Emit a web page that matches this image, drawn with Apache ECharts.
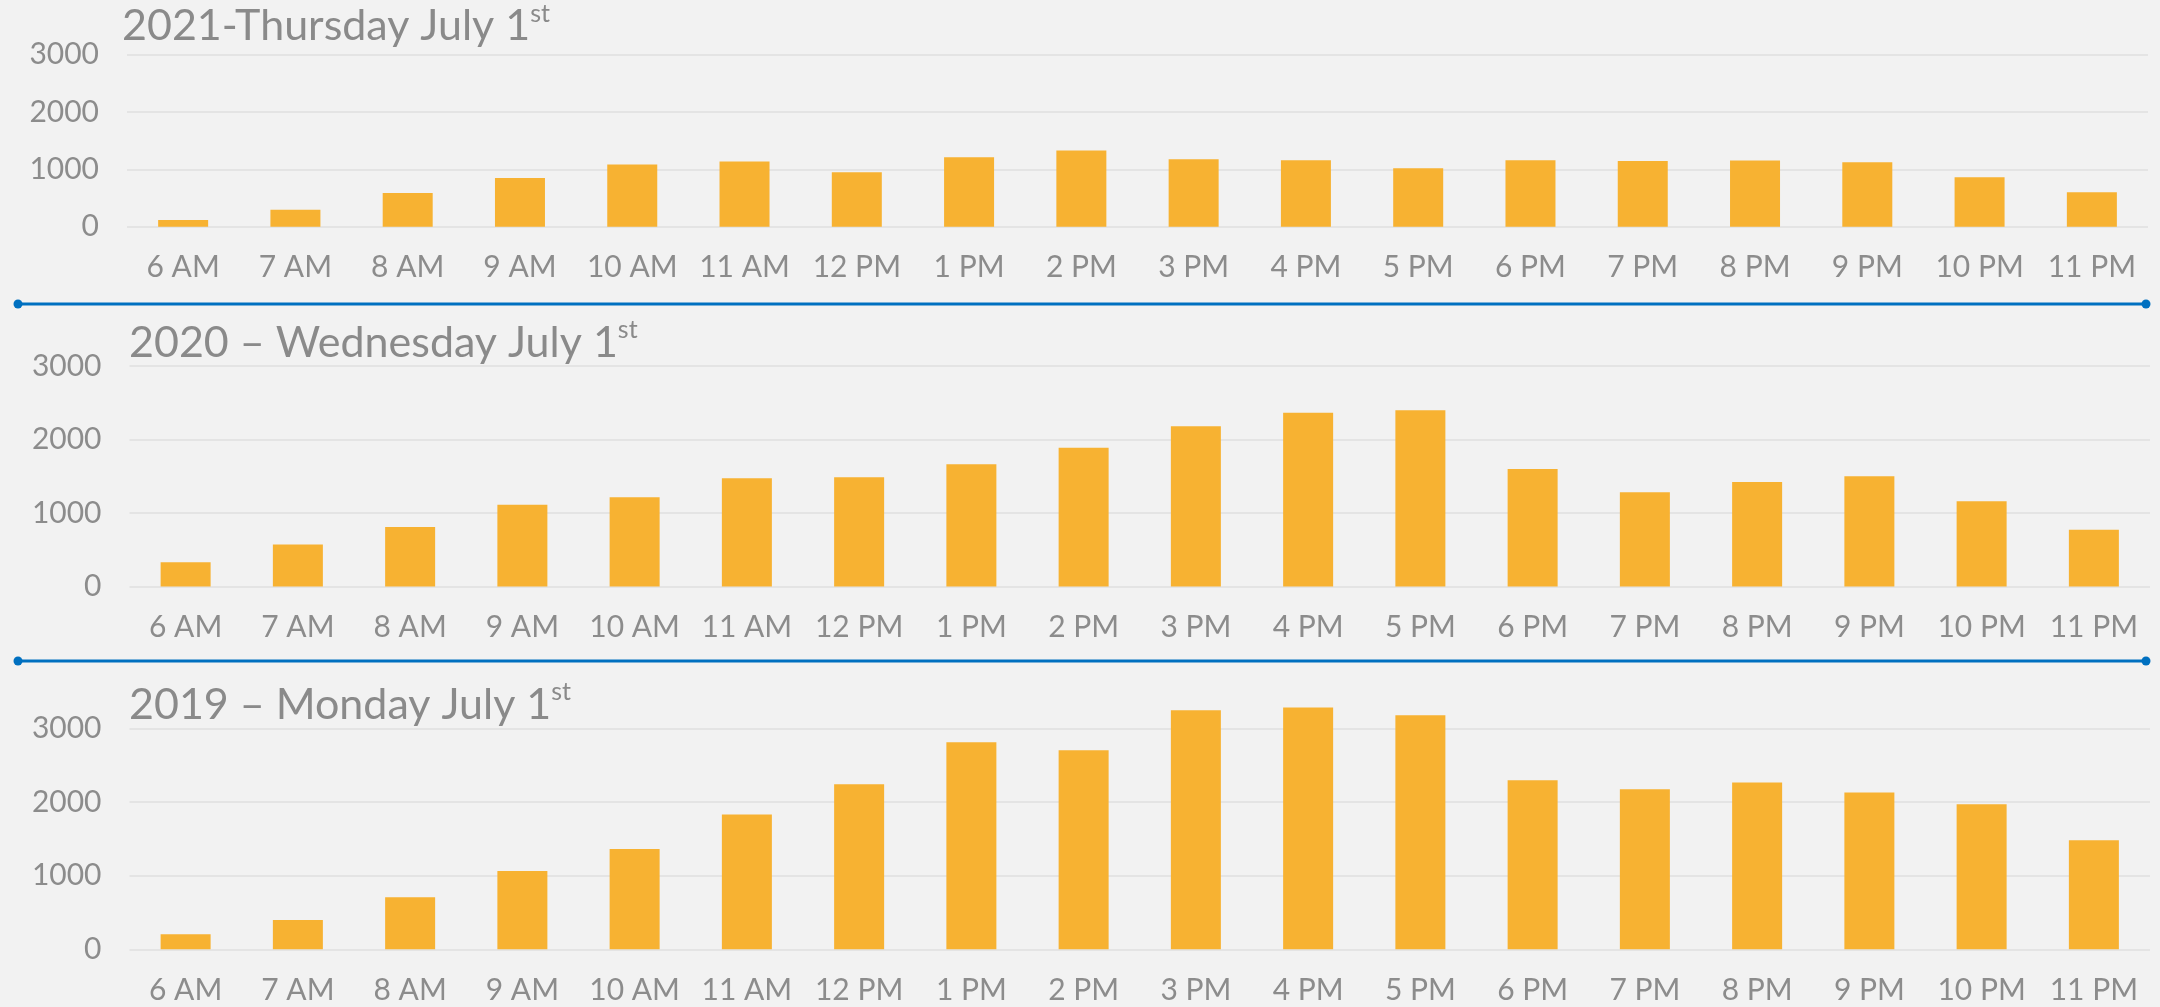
<!DOCTYPE html>
<html>
<head>
<meta charset="utf-8">
<script src="https://cdn.jsdelivr.net/npm/echarts@6/dist/echarts.min.js"></script>
<style>
html,body{margin:0;padding:0;background:#f2f2f2;}
#chart{width:2160px;height:1007px;}
</style>
</head>
<body>
<div id="chart"></div>
<script>
const hours = ['6 AM','7 AM','8 AM','9 AM','10 AM','11 AM','12 PM','1 PM','2 PM','3 PM','4 PM','5 PM','6 PM','7 PM','8 PM','9 PM','10 PM','11 PM'];
const values2021 = [116, 297, 588, 849, 1082, 1134, 948, 1210, 1326, 1175, 1158, 1018, 1158, 1146, 1152, 1123, 861, 599];
const values2020 = [331, 573, 809, 1114, 1214, 1474, 1488, 1665, 1887, 2181, 2363, 2399, 1600, 1282, 1423, 1500, 1160, 773];
const values2019 = [204, 399, 707, 1065, 1365, 1832, 2245, 2816, 2707, 3252, 3288, 3184, 2299, 2177, 2267, 2131, 1973, 1483];
const yTicks = [0, 1000, 2000, 3000];
const titleMain = ['2021-Thursday July 1', '2020 \u2013 Wednesday July 1', '2019 \u2013 Monday July 1'];
const titleSup = ['st', 'st', 'st'];

const FONT = 'Lato';
const TXT = '#8c8c8c';
const BAR = '#f7b232';
const GRIDC = '#e4e4e4';
const BLUE = '#0070c0';

const panels = [
  {grid: {left: 127, right: 12, top: 54.5, height: 172.2}, title: {left: 122, top: 1}},
  {grid: {left: 129.5, right: 10, top: 366, height: 220.6}, title: {left: 129, top: 317.5}},
  {grid: {left: 129.5, right: 10, top: 728.7, height: 220.6}, title: {left: 129, top: 679.5}}
];
const seriesData = [values2021, values2020, values2019];

const chart = echarts.init(document.getElementById('chart'), null, {renderer: 'canvas'});

const option = {
  backgroundColor: '#f2f2f2',
  animation: false,
  title: panels.map((p, i) => ({
    text: '{a|' + titleMain[i] + '}{b|' + titleSup[i] + '}',
    left: p.title.left,
    top: p.title.top,
    padding: 0,
    textStyle: {
      fontWeight: 'normal',
      rich: {
        a: {fontFamily: FONT, fontSize: 43, fontWeight: 'normal', color: '#8a8a8a', lineHeight: 51},
        b: {fontFamily: FONT, fontSize: 25, fontWeight: 'normal', color: '#8a8a8a', lineHeight: 40, verticalAlign: 'top'}
      }
    }
  })),
  grid: panels.map(p => Object.assign({containLabel: false}, p.grid)),
  xAxis: panels.map((p, i) => ({
    type: 'category',
    gridIndex: i,
    data: hours,
    axisLine: {show: false},
    axisTick: {show: false},
    axisLabel: {interval: 0, margin: 26, color: TXT, fontFamily: FONT, fontSize: 30}
  })),
  yAxis: panels.map((p, i) => ({
    type: 'value',
    gridIndex: i,
    min: yTicks[0],
    max: yTicks[yTicks.length - 1],
    interval: yTicks[1] - yTicks[0],
    axisLine: {show: false},
    axisTick: {show: false},
    axisLabel: {margin: 28, color: TXT, fontFamily: FONT, fontSize: 30, formatter: v => String(v)},
    splitLine: {show: true, lineStyle: {color: GRIDC, width: 2}}
  })),
  series: seriesData.map((d, i) => ({
    type: 'bar',
    xAxisIndex: i,
    yAxisIndex: i,
    data: d,
    barWidth: 50,
    clip: false,
    itemStyle: {color: BAR},
    emphasis: {disabled: true}
  })),
  graphic: [304, 661].flatMap(y => [
    {type: 'line', shape: {x1: 18, y1: y, x2: 2146, y2: y}, style: {stroke: BLUE, lineWidth: 3}, silent: true},
    {type: 'circle', shape: {cx: 18, cy: y, r: 4.5}, style: {fill: BLUE}, silent: true},
    {type: 'circle', shape: {cx: 2146, cy: y, r: 4.5}, style: {fill: BLUE}, silent: true}
  ])
};
chart.setOption(option);
</script>
</body>
</html>
